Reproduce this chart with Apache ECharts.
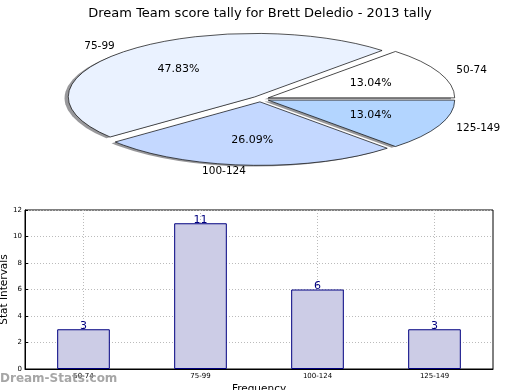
<!DOCTYPE html>
<html>
<head>
<meta charset="utf-8">
<script src="https://cdn.jsdelivr.net/npm/echarts@6/dist/echarts.min.js"></script>
<style>
html,body{margin:0;padding:0;background:#fff;}
#main{width:520px;height:390px;}
</style>
</head>
<body>
<div id="main"></div>
<script>
// ---- data ----
const categories = ['50-74', '75-99', '100-124', '125-149'];
const frequency = [3, 11, 6, 3];
const pieColors = ['#ffffff', '#eaf2ff', '#c4d8ff', '#b3d5ff'];
const titleText = 'Dream Team score tally for Brett Deledio - 2013 tally';

// ---- pie layout (ellipse) ----
const PIE = { cx: 260.5, cy: 99, rx: 186.5, ry: 63.5, explode: 0.045, shadow: 0.02 };
const total = frequency.reduce((a, b) => a + b, 0);
const cum = [0];
frequency.forEach((v, i) => cum.push(cum[i] + v));
const FONT = '"DejaVu Sans", sans-serif';

function renderPie(params, api) {
  const i = params.dataIndex;
  const v = api.value(0);
  const a1 = cum[i] / total * Math.PI * 2;
  const a2 = (cum[i] + v) / total * Math.PI * 2;
  const mid = (a1 + a2) / 2;
  const c = Math.cos(mid), s = Math.sin(mid);
  const ox = PIE.cx + PIE.explode * PIE.rx * c;
  const oy = PIE.cy - PIE.explode * PIE.ry * s;
  const k = PIE.ry / PIE.rx;
  const shape = { cx: 0, cy: 0, r: PIE.rx, r0: 0, startAngle: -a2, endAngle: -a1, clockwise: true };
  const pct = (v / total * 100).toFixed(2) + '%';
  return {
    type: 'group',
    children: [
      { type: 'sector', x: ox - PIE.shadow * PIE.rx, y: oy + PIE.shadow * PIE.ry, scaleY: k,
        shape: shape, style: { fill: 'rgba(50,50,55,0.5)' }, z2: 0 },
      { type: 'sector', x: ox, y: oy, scaleY: k, shape: shape,
        style: { fill: pieColors[i], stroke: '#000', lineWidth: 1, strokeNoScale: true }, z2: 10 },
      { type: 'text', x: ox + 0.6 * PIE.rx * c, y: oy - 0.6 * PIE.ry * s, z2: 20,
        style: { text: pct, fill: '#000', fontSize: 11, fontFamily: FONT, align: 'center', verticalAlign: 'middle' } },
      { type: 'text', x: ox + 1.1 * PIE.rx * c, y: oy - 1.1 * PIE.ry * s, z2: 20,
        style: { text: categories[i], fill: '#000', fontSize: 10.5, fontFamily: FONT,
                 align: c > 0 ? 'left' : 'right', verticalAlign: 'middle' } }
    ]
  };
}

const chart = echarts.init(document.getElementById('main'), null, { renderer: 'canvas' });
chart.setOption({
  animation: false,
  backgroundColor: '#fff',
  textStyle: { fontFamily: FONT },
  title: {
    text: titleText, left: 'center', top: 2,
    textStyle: { fontSize: 13, fontWeight: 'normal', color: '#000', fontFamily: FONT }
  },
  graphic: [{
    type: 'text', left: 0, top: 373, z: 100,
    style: { text: 'Dream-Stats.com', fill: 'rgba(150,150,150,0.85)', fontSize: 12, fontWeight: 'bold', fontFamily: FONT }
  }],
  grid: {
    left: 25, right: 27, top: 210, bottom: 21,
    containLabel: false, outerBoundsMode: 'none',
    show: true, borderColor: '#000', borderWidth: 1, backgroundColor: 'transparent'
  },
  xAxis: {
    type: 'category', data: categories,
    name: 'Frequency', nameLocation: 'middle', nameGap: 15, nameMoveOverlap: false,
    nameTextStyle: { fontSize: 10.5, color: '#000', fontFamily: FONT },
    axisLine: { lineStyle: { color: '#000' } },
    axisTick: { show: false },
    axisLabel: { fontSize: 7, color: '#000', margin: 4, fontFamily: FONT },
    splitLine: { show: true, alignWithLabel: true, lineStyle: { color: '#bbb', type: [1, 2], width: 1 } }
  },
  yAxis: {
    type: 'value', min: 0, max: 12, interval: 2,
    name: 'Stat Intervals', nameLocation: 'middle', nameGap: 15, nameMoveOverlap: false,
    nameTextStyle: { fontSize: 10.5, color: '#000', fontFamily: FONT },
    axisLine: { show: true, lineStyle: { color: '#000' } },
    axisTick: { show: true, inside: true, length: 3, lineStyle: { color: '#000' } },
    axisLabel: { fontSize: 7, color: '#000', margin: 3, fontFamily: FONT },
    splitLine: { show: true, lineStyle: { color: '#bbb', type: [1, 2], width: 1 } }
  },
  series: [
    {
      type: 'bar', data: frequency, barWidth: '45%',
      itemStyle: { color: '#ccccE6', borderColor: '#000080', borderWidth: 1 },
      label: { show: true, position: 'top', distance: -2, color: '#000080', fontSize: 11, fontFamily: FONT },
      z: 1
    },
    {
      type: 'custom', coordinateSystem: 'none',
      data: frequency.map(v => [v]),
      renderItem: renderPie, silent: true
    }
  ]
});
</script>
</body>
</html>
